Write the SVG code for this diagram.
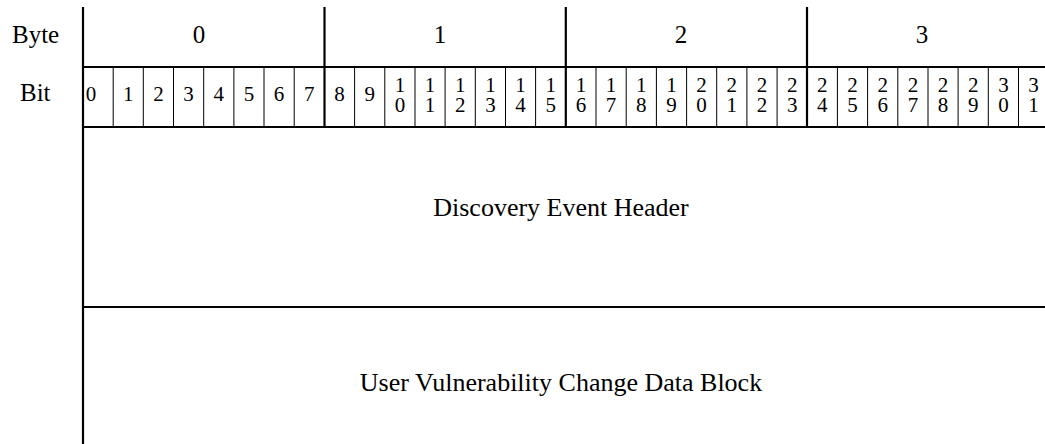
<svg xmlns="http://www.w3.org/2000/svg" width="1045" height="444" viewBox="0 0 1045 444">
<style>
text{font-family:"Liberation Serif","Times New Roman",serif;fill:#000}
.hdr{font-size:25px}
.lbl{font-size:25px;text-anchor:middle}
.bit{font-size:21px;text-anchor:middle}
.big{font-size:26px;text-anchor:middle}
.thick{stroke:#000;stroke-width:2.2;fill:none}
.thin{stroke:#000;stroke-width:1;fill:none}
</style>
<rect width="1045" height="444" fill="#fff"/>
<g id="connectors">
<line class="thick" x1="83" y1="7" x2="83" y2="444"/>
<line class="thick" x1="324.5" y1="7" x2="324.5" y2="127"/>
<line class="thick" x1="565.8" y1="7" x2="565.8" y2="127"/>
<line class="thick" x1="807" y1="7" x2="807" y2="127"/>
<line class="thick" x1="83" y1="67" x2="1045" y2="67"/>
<line class="thick" x1="83" y1="127" x2="1045" y2="127"/>
<line class="thick" x1="83" y1="307" x2="1045" y2="307"/>
<g id="bitdividers">
<line class="thin" x1="113.2" y1="67" x2="113.2" y2="127"/>
<line class="thin" x1="143.3" y1="67" x2="143.3" y2="127"/>
<line class="thin" x1="173.5" y1="67" x2="173.5" y2="127"/>
<line class="thin" x1="203.7" y1="67" x2="203.7" y2="127"/>
<line class="thin" x1="233.9" y1="67" x2="233.9" y2="127"/>
<line class="thin" x1="264" y1="67" x2="264" y2="127"/>
<line class="thin" x1="294.2" y1="67" x2="294.2" y2="127"/>
<line class="thin" x1="354.6" y1="67" x2="354.6" y2="127"/>
<line class="thin" x1="384.8" y1="67" x2="384.8" y2="127"/>
<line class="thin" x1="415" y1="67" x2="415" y2="127"/>
<line class="thin" x1="445.1" y1="67" x2="445.1" y2="127"/>
<line class="thin" x1="475.3" y1="67" x2="475.3" y2="127"/>
<line class="thin" x1="505.5" y1="67" x2="505.5" y2="127"/>
<line class="thin" x1="535.6" y1="67" x2="535.6" y2="127"/>
<line class="thin" x1="596" y1="67" x2="596" y2="127"/>
<line class="thin" x1="626.2" y1="67" x2="626.2" y2="127"/>
<line class="thin" x1="656.4" y1="67" x2="656.4" y2="127"/>
<line class="thin" x1="686.6" y1="67" x2="686.6" y2="127"/>
<line class="thin" x1="716.7" y1="67" x2="716.7" y2="127"/>
<line class="thin" x1="746.9" y1="67" x2="746.9" y2="127"/>
<line class="thin" x1="777.1" y1="67" x2="777.1" y2="127"/>
<line class="thin" x1="837.4" y1="67" x2="837.4" y2="127"/>
<line class="thin" x1="867.6" y1="67" x2="867.6" y2="127"/>
<line class="thin" x1="897.8" y1="67" x2="897.8" y2="127"/>
<line class="thin" x1="928" y1="67" x2="928" y2="127"/>
<line class="thin" x1="958.1" y1="67" x2="958.1" y2="127"/>
<line class="thin" x1="988.3" y1="67" x2="988.3" y2="127"/>
<line class="thin" x1="1018.5" y1="67" x2="1018.5" y2="127"/>
</g>
</g>
<g id="row-labels">
<text class="hdr" x="12" y="42.5">Byte</text>
<text class="hdr" x="20" y="101">Bit</text>
</g>
<g id="bytes">
<text class="lbl" x="199" y="42.5">0</text>
<text class="lbl" x="440" y="42.5">1</text>
<text class="lbl" x="681" y="42.5">2</text>
<text class="lbl" x="922" y="42.5">3</text>
</g>
<g id="bits">
<text class="bit" x="91" y="101">0</text>
<text class="bit" x="128.3" y="101">1</text>
<text class="bit" x="158.4" y="101">2</text>
<text class="bit" x="188.6" y="101">3</text>
<text class="bit" x="218.8" y="101">4</text>
<text class="bit" x="249" y="101">5</text>
<text class="bit" x="279.1" y="101">6</text>
<text class="bit" x="309.3" y="101">7</text>
<text class="bit" x="339.5" y="101">8</text>
<text class="bit" x="369.7" y="101">9</text>
<text class="bit" x="399.9" y="91.5">1<tspan x="399.9" dy="20">0</tspan></text>
<text class="bit" x="430" y="91.5">1<tspan x="430" dy="20">1</tspan></text>
<text class="bit" x="460.2" y="91.5">1<tspan x="460.2" dy="20">2</tspan></text>
<text class="bit" x="490.4" y="91.5">1<tspan x="490.4" dy="20">3</tspan></text>
<text class="bit" x="520.6" y="91.5">1<tspan x="520.6" dy="20">4</tspan></text>
<text class="bit" x="550.7" y="91.5">1<tspan x="550.7" dy="20">5</tspan></text>
<text class="bit" x="580.9" y="91.5">1<tspan x="580.9" dy="20">6</tspan></text>
<text class="bit" x="611.1" y="91.5">1<tspan x="611.1" dy="20">7</tspan></text>
<text class="bit" x="641.3" y="91.5">1<tspan x="641.3" dy="20">8</tspan></text>
<text class="bit" x="671.5" y="91.5">1<tspan x="671.5" dy="20">9</tspan></text>
<text class="bit" x="701.6" y="91.5">2<tspan x="701.6" dy="20">0</tspan></text>
<text class="bit" x="731.8" y="91.5">2<tspan x="731.8" dy="20">1</tspan></text>
<text class="bit" x="762" y="91.5">2<tspan x="762" dy="20">2</tspan></text>
<text class="bit" x="792.2" y="91.5">2<tspan x="792.2" dy="20">3</tspan></text>
<text class="bit" x="822.3" y="91.5">2<tspan x="822.3" dy="20">4</tspan></text>
<text class="bit" x="852.5" y="91.5">2<tspan x="852.5" dy="20">5</tspan></text>
<text class="bit" x="882.7" y="91.5">2<tspan x="882.7" dy="20">6</tspan></text>
<text class="bit" x="912.9" y="91.5">2<tspan x="912.9" dy="20">7</tspan></text>
<text class="bit" x="943" y="91.5">2<tspan x="943" dy="20">8</tspan></text>
<text class="bit" x="973.2" y="91.5">2<tspan x="973.2" dy="20">9</tspan></text>
<text class="bit" x="1003.4" y="91.5">3<tspan x="1003.4" dy="20">0</tspan></text>
<text class="bit" x="1033.6" y="91.5">3<tspan x="1033.6" dy="20">1</tspan></text>
</g>
<g id="discovery-event-header">
<text class="big" x="561" y="216">Discovery Event Header</text>
</g>
<g id="user-vulnerability-change-data-block">
<text class="big" x="561" y="391">User Vulnerability Change Data Block</text>
</g>
</svg>
